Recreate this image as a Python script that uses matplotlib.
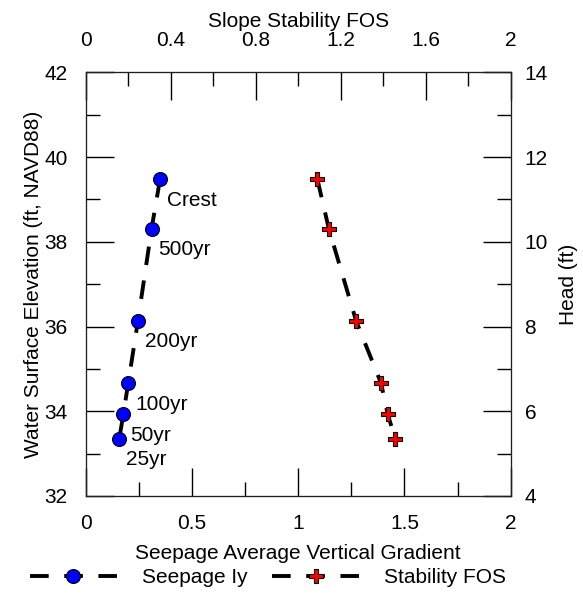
import numpy as np
import matplotlib
matplotlib.use("Agg")
import matplotlib.pyplot as plt
from matplotlib.ticker import MultipleLocator

fs = 15

plt.rcParams['font.family'] = ['Liberation Sans', 'DejaVu Sans']
for eje in ('xtick', 'ytick'):
  plt.rcParams[eje + '.major.size'] = 20
  plt.rcParams[eje + '.minor.size'] = 10
  plt.rcParams[eje + '.major.width'] = 1.0
  plt.rcParams[eje + '.minor.width'] = 1.0
  plt.rcParams[eje + '.direction'] = 'in'
  plt.rcParams[eje + '.color'] = 'black'
  plt.rcParams[eje + '.labelsize'] = fs
  plt.rcParams[eje + '.major.pad'] = 13
plt.rcParams['axes.edgecolor'] = '#202020'

# datos
eventos = ['Crest', '500yr', '200yr', '100yr', '50yr', '25yr']
elev = [39.48, 38.31, 36.14, 34.66, 33.93, 33.35]
gradiente = [0.35, 0.31, 0.246, 0.20, 0.177, 0.158]
fos = [1.09, 1.144, 1.272, 1.39, 1.421, 1.457]

fig = plt.figure(figsize=(5.83, 5.95), dpi=100)
ax = fig.add_axes([0.147, 0.1664, 0.729, 0.7121])
ax_top = ax.twiny()
ax_der = ax.twinx()

dash = (0, (4.8, 4.0))
l1, = ax.plot(gradiente, elev, linestyle=dash, color='black', lw=2.8,
              marker='o', markersize=10, markerfacecolor='#0000ff',
              markeredgecolor='black', markeredgewidth=0.8, label='Seepage Iy')
l2, = ax_top.plot(fos, elev, linestyle=dash, color='black', lw=2.8,
                  marker='P', markersize=10.5, markerfacecolor='#ff0000',
                  markeredgecolor='black', markeredgewidth=0.8, label='Stability FOS')

for nombre, x, y in zip(eventos, gradiente, elev):
  ax.annotate(nombre, (x, y), xytext=(7, -21), textcoords='offset pixels',
              ha='left', va='center', fontsize=fs)

ax.set_xlim(0, 2)
ax.set_ylim(32, 42)
ax_top.set_xlim(0, 2)
ax_top.set_ylim(32, 42)
ax_der.set_ylim(4, 14)

ax.set_xticks([0, 0.5, 1, 1.5, 2])
ax.set_xticklabels(['0', '0.5', '1', '1.5', '2'])
ax_top.set_xticks([0, 0.4, 0.8, 1.2, 1.6, 2])
ax_top.set_xticklabels(['0', '0.4', '0.8', '1.2', '1.6', '2'])
ax.xaxis.set_minor_locator(MultipleLocator(0.25))
ax.yaxis.set_major_locator(MultipleLocator(2))
ax.yaxis.set_minor_locator(MultipleLocator(1))
ax_top.xaxis.set_minor_locator(MultipleLocator(0.2))
ax_der.yaxis.set_major_locator(MultipleLocator(2))
ax_der.yaxis.set_minor_locator(MultipleLocator(1))

ax_top.tick_params(axis='x', which='major', pad=16)
ax_der.tick_params(axis='y', which='major', pad=10)

ax.set_xlabel('Seepage Average Vertical Gradient', fontsize=fs, labelpad=8)
ax.set_ylabel('Water Surface Elevation (ft, NAVD88)', fontsize=fs, labelpad=1)
ax_top.set_xlabel('Slope Stability FOS', fontsize=fs, labelpad=3)
ax_der.set_ylabel('Head (ft)', fontsize=fs, labelpad=8)

fig.legend(handles=[l1, l2], loc='center', bbox_to_anchor=(0.46, 0.029),
           ncol=2, frameon=False, fontsize=fs, handlelength=4.17,
           columnspacing=1.2, handletextpad=1.2, numpoints=1)

fig.savefig('out.png', dpi=100)
